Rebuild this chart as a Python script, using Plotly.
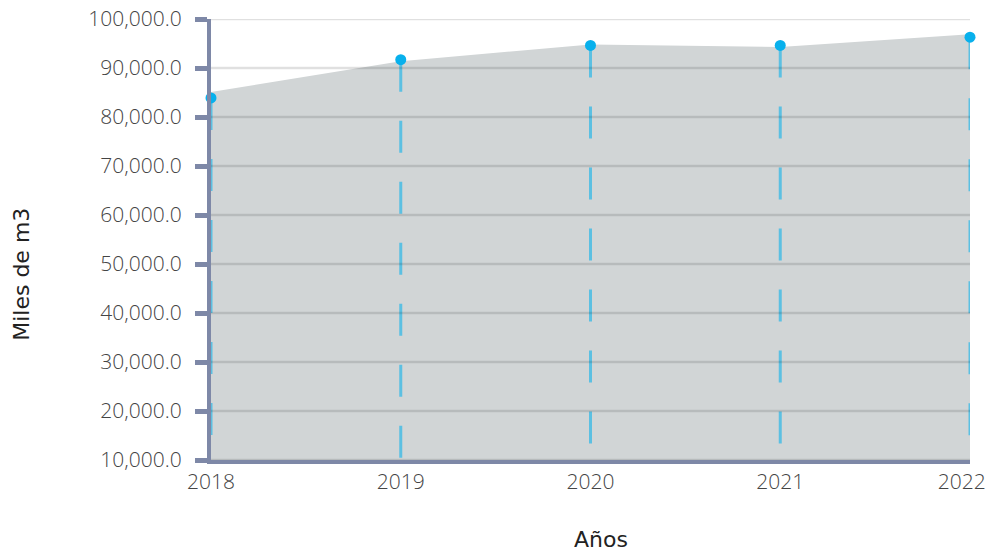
import plotly.graph_objects as go

years = [2018, 2019, 2020, 2021, 2022]
year_labels = ["2018", "2019", "2020", "2021", "2022\u00a0\u00a0\u00a0"]
area_values = [85100, 91400, 94800, 94300, 96900]
point_values = [83900, 91700, 94600, 94600, 96300]
y_ticks = [10000, 20000, 30000, 40000, 50000, 60000, 70000, 80000, 90000, 100000]
y_min, y_max = 10000, 100000

AXIS = "#7e88a7"
DROP = "#5cc0e2"
DOT = "#08b0ec"
AREA = "#d1d5d6"
FONT = "Open Sans"
TICKFONT = dict(family=FONT, size=21, color="#444444", weight=300)
TITLEFONT = dict(family="DejaVu Sans", size=22, color="#222222")

fig = go.Figure()

fig.add_trace(go.Scatter(
    x=years, y=area_values, mode="lines", fill="tozeroy",
    fillcolor=AREA, line=dict(color=AREA, width=0), hoverinfo="skip",
    showlegend=False,
))

for yr, v in zip(years, point_values):
    fig.add_trace(go.Scatter(
        x=[yr, yr], y=[v, y_min], mode="lines",
        line=dict(color=DROP, width=3, dash="32px,29px"),
        hoverinfo="skip", showlegend=False, cliponaxis=False,
    ))

fig.add_trace(go.Scatter(
    x=years, y=point_values, mode="markers",
    marker=dict(color=DOT, size=11), cliponaxis=False, showlegend=False,
))

for t in y_ticks:
    fig.add_shape(type="line", xref="paper", x0=0, x1=1, yref="y", y0=t, y1=t,
                  line=dict(color="rgba(0,0,0,0.12)", width=2.5), layer="above")

fig.update_layout(
    width=990, height=553,
    margin=dict(l=211, r=20, t=19, b=93, autoexpand=False),
    paper_bgcolor="white", plot_bgcolor="white",
    font=dict(family=FONT, size=20, color="#444444"),
    xaxis=dict(
        range=[2018, 2022], tickvals=years, ticktext=year_labels,
        showgrid=False, zeroline=False, showline=True, linecolor=AXIS, linewidth=4,
        ticks="", layer="above traces", tickfont=TICKFONT, automargin=False,
        ticklabeloverflow="allow",
    ),
    yaxis=dict(
        range=[y_min, y_max], tickvals=y_ticks, tickformat=",.1f",
        showgrid=False, zeroline=False, showline=True, linecolor=AXIS, linewidth=4,
        ticks="outside", ticklen=12, tickwidth=5, tickcolor=AXIS,
        layer="above traces", tickfont=TICKFONT, automargin=False,
        ticklabeloverflow="allow", ticklabelstandoff=9,
    ),
    annotations=[
        dict(text="Miles de m3", xref="paper", yref="paper", x=-0.249, y=0.42,
             xanchor="center", yanchor="middle", textangle=-90, showarrow=False,
             font=TITLEFONT),
        dict(text="Años", xref="paper", yref="paper", x=0.514, y=-0.181,
             xanchor="center", yanchor="middle", showarrow=False,
             font=TITLEFONT),
    ],
)

fig.write_html(
    "out.html",
    config={"displayModeBar": False},
    post_script="document.body.style.margin='0';document.body.style.overflow='hidden';",
)
